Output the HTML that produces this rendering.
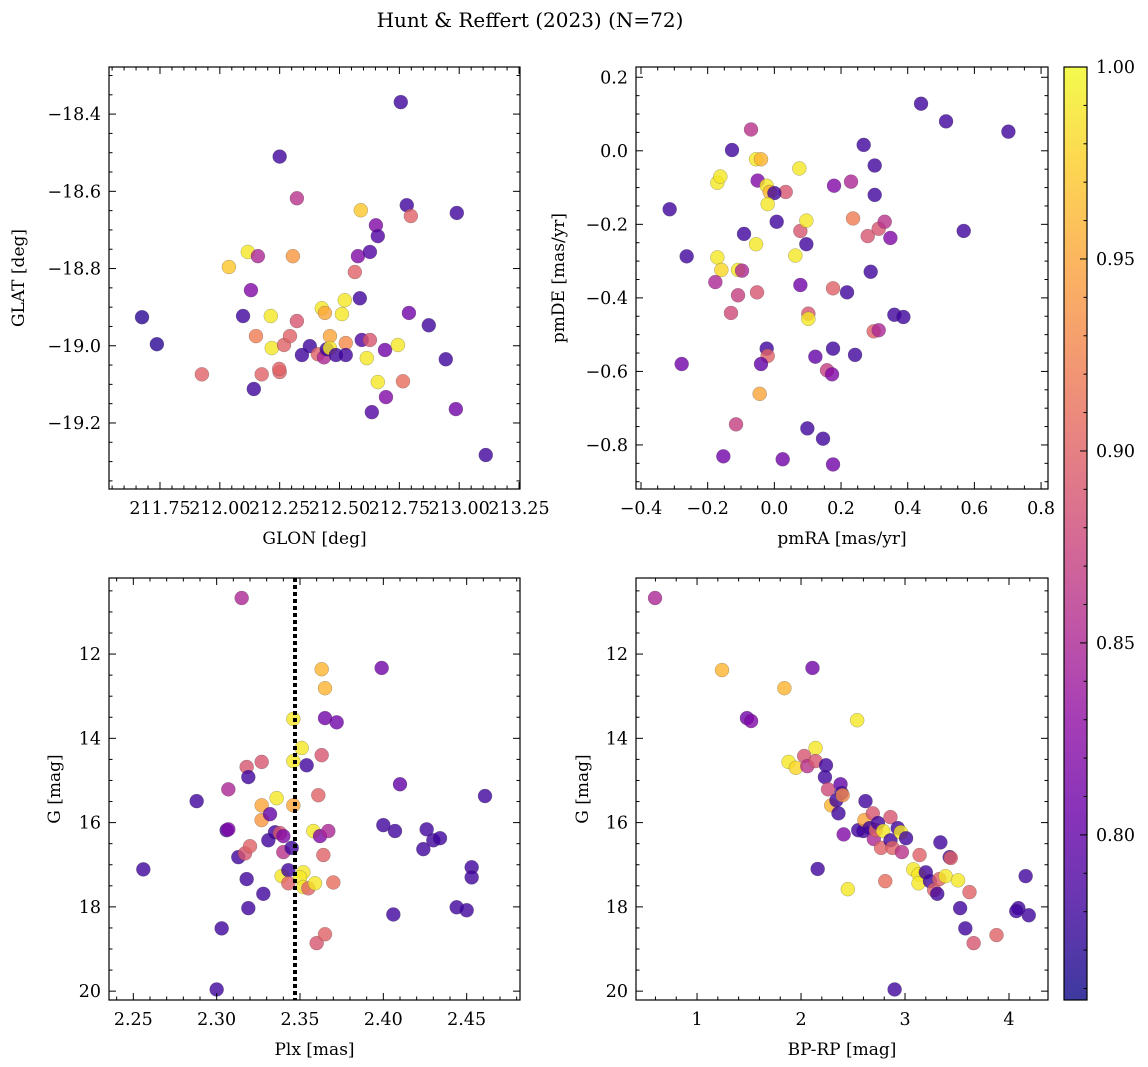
<!DOCTYPE html>
<html><head><meta charset="utf-8"><style>
body{margin:0;background:#fff}
svg{display:block;font-family:"DejaVu Serif","Liberation Serif",serif}
</style></head><body>
<svg id="c" width="1148" height="1067" viewBox="0 0 1148 1067" xmlns="http://www.w3.org/2000/svg">
<text x="530" y="27" font-size="20" text-anchor="middle">Hunt &amp; Reffert (2023) (N=72)</text>
</svg>
<script>
// Panel 1: GLON / GLAT
const glonA=[211.675,211.737,211.925,212.038,212.117,212.13,212.159,212.097,212.151,212.142,212.175,212.213,212.217,212.25,212.25,212.248,212.268,212.293,212.305,212.322,212.322,212.343,212.376,212.41,212.426,212.439,212.435,212.447,212.46,212.46,212.485,212.522,212.51,212.526,212.526,212.564,212.577,212.585,212.589,212.593,212.614,212.627,212.627,212.635,212.652,212.66,212.66,212.69,212.694,212.744,212.756,212.765,212.781,212.79,212.798,212.873,212.944,212.986,212.99,213.111];
const glatA=[-18.926,-18.996,-19.074,-18.796,-18.757,-18.856,-18.768,-18.923,-18.975,-19.112,-19.074,-18.923,-19.006,-18.51,-19.068,-19.06,-18.998,-18.975,-18.768,-18.618,-18.936,-19.024,-19.001,-19.022,-18.903,-18.915,-19.03,-19.009,-18.975,-19.006,-19.024,-18.882,-18.918,-18.993,-19.024,-18.809,-18.768,-18.877,-18.649,-18.985,-19.032,-18.985,-18.757,-19.172,-18.688,-18.716,-19.094,-19.011,-19.133,-18.998,-18.369,-19.092,-18.636,-18.915,-18.664,-18.947,-19.035,-19.164,-18.656,-19.283];
const prob1=[.77,.77,.90,.97,.99,.82,.85,.78,.92,.78,.90,.99,.99,.78,.90,.90,.90,.90,.94,.86,.89,.78,.78,.90,.99,.95,.85,.78,.95,.99,.78,.99,.99,.93,.78,.90,.82,.78,.97,.79,.99,.89,.79,.79,.82,.79,.99,.81,.82,.99,.78,.91,.78,.81,.90,.78,.78,.81,.78,.78];
// Panel 2: pmRA / pmDE
const pmraA=[-0.314,-0.263,-0.127,-0.07,-0.171,-0.162,-0.171,-0.159,-0.177,-0.109,-0.097,-0.109,-0.13,-0.115,-0.153,-0.278,-0.091,-0.055,-0.04,-0.05,-0.023,-0.014,0.034,0.0,-0.02,0.007,-0.055,-0.052,-0.023,-0.02,-0.04,-0.044,0.025,0.075,0.063,0.078,0.078,0.096,0.096,0.102,0.102,0.099,0.123,0.146,0.158,0.173,0.176,0.176,0.176,0.179,0.218,0.23,0.236,0.242,0.268,0.28,0.289,0.298,0.301,0.301,0.313,0.313,0.331,0.348,0.36,0.387,0.44,0.515,0.568,0.702];
const pmdeA=[-0.159,-0.287,0.002,0.058,-0.087,-0.07,-0.29,-0.324,-0.357,-0.324,-0.326,-0.393,-0.441,-0.744,-0.831,-0.58,-0.226,-0.023,-0.023,-0.081,-0.095,-0.112,-0.112,-0.115,-0.145,-0.193,-0.254,-0.385,-0.538,-0.558,-0.58,-0.661,-0.839,-0.048,-0.285,-0.218,-0.365,-0.19,-0.254,-0.443,-0.457,-0.755,-0.56,-0.783,-0.597,-0.608,-0.538,-0.374,-0.853,-0.095,-0.385,-0.084,-0.184,-0.555,0.016,-0.232,-0.329,-0.491,-0.04,-0.12,-0.212,-0.488,-0.193,-0.237,-0.446,-0.452,0.128,0.08,-0.218,0.052];
const prob2=[.78,.78,.78,.86,.99,.99,.99,.98,.85,.99,.85,.87,.88,.87,.81,.81,.78,.99,.96,.82,.99,.96,.89,.78,.99,.78,.99,.89,.78,.90,.80,.95,.81,.99,.99,.89,.81,.99,.78,.89,.99,.78,.80,.78,.87,.82,.78,.90,.81,.82,.78,.85,.92,.78,.78,.89,.78,.90,.78,.78,.89,.85,.86,.82,.78,.78,.78,.78,.78,.78];
// Panel 3: Plx / G
const plxA=[2.256,2.288,2.300,2.303,2.315,2.306,2.307,2.307,2.313,2.318,2.317,2.32,2.318,2.319,2.319,2.327,2.328,2.327,2.327,2.331,2.332,2.335,2.336,2.338,2.34,2.34,2.339,2.343,2.343,2.345,2.346,2.346,2.346,2.351,2.352,2.35,2.352,2.354,2.355,2.358,2.359,2.36,2.361,2.362,2.363,2.363,2.364,2.365,2.365,2.365,2.367,2.372,2.37,2.399,2.4,2.407,2.406,2.41,2.424,2.426,2.43,2.434,2.444,2.45,2.453,2.453,2.461];
const g3A=[17.11,15.49,19.96,18.51,10.67,16.18,16.16,15.21,16.82,17.34,16.73,16.56,14.68,14.92,18.03,14.56,17.69,15.59,15.94,16.42,15.8,16.23,15.42,16.25,16.7,16.32,17.27,17.13,17.44,16.6,15.59,14.54,13.54,14.23,17.18,17.3,17.53,14.64,17.56,16.2,17.44,18.86,15.35,16.32,14.4,12.36,16.77,12.81,18.65,13.52,16.2,13.62,17.42,12.33,16.06,16.2,18.18,15.09,16.63,16.16,16.42,16.37,18.01,18.08,17.06,17.3,15.37];
const prob3=[.78,.78,.78,.78,.85,.78,.82,.85,.78,.78,.89,.90,.89,.78,.78,.89,.78,.95,.94,.78,.80,.78,.99,.89,.86,.82,.99,.78,.90,.78,.95,.99,.99,.99,.99,.99,.99,.78,.90,.99,.99,.89,.90,.82,.89,.96,.90,.96,.90,.81,.85,.81,.91,.81,.78,.78,.78,.80,.78,.78,.78,.78,.78,.78,.78,.78,.78];
// Panel 4: BP-RP / G
const bprpA=[0.596,1.24,1.48,1.52,1.84,2.11,2.54,1.88,1.95,2.03,2.06,2.14,2.14,2.16,2.24,2.23,2.26,2.29,2.34,2.36,2.38,2.39,2.4,2.41,2.45,2.6,2.55,2.62,2.61,2.66,2.69,2.7,2.72,2.74,2.77,2.79,2.81,2.86,2.86,2.88,2.9,2.93,2.96,2.97,3.01,3.08,3.13,3.13,3.14,3.2,3.24,3.28,3.31,3.33,3.34,3.43,3.44,3.39,3.51,3.62,3.53,3.58,3.66,3.88,4.09,4.07,4.16,4.19];
const g4A=[10.67,12.38,13.52,13.59,12.81,12.33,13.57,14.56,14.7,14.42,14.66,14.23,14.54,17.1,14.64,14.92,15.21,15.59,15.47,15.78,15.09,15.3,15.35,16.28,17.58,16.2,16.18,15.49,15.94,16.13,15.78,16.39,16.18,16.01,16.6,16.2,17.39,15.87,16.42,16.6,19.96,16.13,16.23,16.7,16.37,17.11,17.23,17.44,16.77,17.18,17.39,17.6,17.69,17.34,16.47,16.82,16.84,17.27,17.37,17.65,18.03,18.51,18.86,18.67,18.03,18.1,17.27,18.2];
const prob4=[.85,.96,.81,.82,.96,.81,.99,.99,.98,.89,.86,.99,.89,.78,.78,.78,.88,.96,.78,.78,.80,.78,.93,.82,.99,.78,.78,.78,.95,.78,.89,.85,.90,.78,.90,.99,.91,.89,.78,.90,.78,.78,.99,.86,.78,.99,.99,.99,.90,.78,.78,.90,.78,.90,.78,.78,.90,.99,.99,.90,.78,.78,.89,.90,.78,.78,.78,.78];
const cbTicks=[0.80,0.85,0.90,0.95,1.00];
const VMIN=0.757,VMAX=1.0;

const NS="http://www.w3.org/2000/svg";
const svg=document.getElementById('c');
const stops=["#0d0887","#41049d","#6a00a8","#8f0da4","#b12a90","#cc4778","#e16462","#f2844b","#fca636","#fcce25","#f0f921"];
function hex(h){return[1,3,5].map(i=>parseInt(h.substr(i,2),16));}
function plasma(t){t=Math.max(0,Math.min(1,t));const f=t*10,i=Math.min(9,Math.floor(f)),r=f-i;const a=hex(stops[i]),b=hex(stops[i+1]);return 'rgb('+a.map((v,k)=>Math.round(v+(b[k]-v)*r)).join(',')+')';}
function cmap(p){return plasma((p-VMIN)/(VMAX-VMIN));}
function el(tag,attrs,parent){const e=document.createElementNS(NS,tag);for(const k in attrs)e.setAttribute(k,attrs[k]);(parent||svg).appendChild(e);return e;}
function fmt(v,d){const s=Math.abs(v).toFixed(d);return (v<-1e-9?'\u2212':'')+s;}
const TFS=17.5;

function panel(o){
  const g=el('g',{});
  
  
  const sx=v=>o.L+(v-o.x0)/(o.x1-o.x0)*(o.R-o.L);
  const sy=v=>o.T+(v-o.y0)/(o.y1-o.y0)*(o.B-o.T);
  const clip=el('clipPath',{id:'cl'+o.name},g);
  el('rect',{x:o.L,y:o.T,width:o.R-o.L,height:o.B-o.T},clip);
  const pts=el('g',{'clip-path':'url(#cl'+o.name+')'},g);
  for(let i=0;i<o.xs.length;i++){
    const c=el('circle',{cx:sx(o.xs[i]),cy:sy(o.ys[i]),r:7,fill:cmap(o.ps[i]),'fill-opacity':0.8,stroke:'#444','stroke-opacity':0.45,'stroke-width':0.5},pts);
    
    
  }
  if(o.vline!==undefined){
    const l=el('line',{x1:sx(o.vline),x2:sx(o.vline),y1:o.T,y2:o.B,stroke:'#000','stroke-width':4,'stroke-dasharray':'4,3'},g);
    
    
  }
  const tk=el('g',{stroke:'#000','stroke-width':1},g);
  const xlo=Math.min(o.x0,o.x1),xhi=Math.max(o.x0,o.x1),ylo=Math.min(o.y0,o.y1),yhi=Math.max(o.y0,o.y1);
  for(let k=Math.ceil(xlo/o.xmin-1e-6);k*o.xmin<=xhi+1e-9;k++){
    const v=k*o.xmin,x=sx(v);const maj=Math.abs(v/o.xmaj-Math.round(v/o.xmaj))<1e-6;const len=maj?7:3.5;
    el('line',{x1:x,x2:x,y1:o.B,y2:o.B-len},tk);el('line',{x1:x,x2:x,y1:o.T,y2:o.T+len},tk);
    if(maj){const t=el('text',{x:x,y:o.B+25,'font-size':TFS,'text-anchor':'middle'},g);t.textContent=fmt(v,o.xd);}
  }
  for(let k=Math.ceil(ylo/o.ymin-1e-6);k*o.ymin<=yhi+1e-9;k++){
    const v=k*o.ymin,y=sy(v);const maj=Math.abs(v/o.ymaj-Math.round(v/o.ymaj))<1e-6;const len=maj?7:3.5;
    el('line',{x1:o.L,x2:o.L+len,y1:y,y2:y},tk);el('line',{x1:o.R,x2:o.R-len,y1:y,y2:y},tk);
    if(maj){const t=el('text',{x:o.L-8,y:y+6,'font-size':TFS,'text-anchor':'end'},g);t.textContent=fmt(v,o.yd);}
  }
  el('rect',{x:o.L,y:o.T,width:o.R-o.L,height:o.B-o.T,fill:'none',stroke:'#000','stroke-width':1.2},g);
  const xl=el('text',{x:(o.L+o.R)/2,y:o.B+55,'font-size':17,'text-anchor':'middle'},g);xl.textContent=o.xlab;
  
  const yx=o.ylx,yc=(o.T+o.B)/2;
  const yl=el('text',{x:yx,y:yc,'font-size':17,'text-anchor':'middle',transform:'rotate(-90 '+yx+' '+yc+')'},g);yl.textContent=o.ylab;
  
}
panel({name:'glon-glat-panel',L:109,R:520,T:67,B:489,x0:211.537,x1:213.254,y0:-18.278,y1:-19.371,xmaj:0.25,xmin:0.05,ymaj:0.2,ymin:0.05,xd:2,yd:1,xs:glonA,ys:glatA,ps:prob1,xlab:'GLON [deg]',ylab:'GLAT [deg]',ylx:24});
panel({name:'proper-motion-panel',L:636,R:1048,T:67,B:489,x0:-0.415,x1:0.8208,y0:0.2279,y1:-0.9198,xmaj:0.2,xmin:0.05,ymaj:0.2,ymin:0.05,xd:1,yd:1,xs:pmraA,ys:pmdeA,ps:prob2,xlab:'pmRA [mas/yr]',ylab:'pmDE [mas/yr]',ylx:564});
panel({name:'parallax-magnitude-panel',L:109,R:520,T:578,B:1000,x0:2.2354,x1:2.482,y0:10.195,y1:20.21,xmaj:0.05,xmin:0.01,ymaj:2,ymin:0.5,xd:2,yd:0,xs:plxA,ys:g3A,ps:prob3,xlab:'Plx [mas]',ylab:'G [mag]',ylx:60,vline:2.347});
panel({name:'color-magnitude-panel',L:636,R:1048,T:578,B:1000,x0:0.413,x1:4.375,y0:10.195,y1:20.21,xmaj:1,xmin:0.2,ymaj:2,ymin:0.5,xd:0,yd:0,xs:bprpA,ys:g4A,ps:prob4,xlab:'BP-RP [mag]',ylab:'G [mag]',ylx:588});

const cb=el('g',{});


const CL=1064,CR=1087,CT=67,CB=1000;
const cby=v=>CB-(v-VMIN)/(VMAX-VMIN)*(CB-CT);
const defs=el('defs',{},cb);
const lg=el('linearGradient',{id:'cbg',x1:0,y1:1,x2:0,y2:0},defs);
for(let i=0;i<=20;i++)el('stop',{offset:i/20,'stop-color':plasma(i/20)},lg);
el('rect',{x:CL,y:CT,width:CR-CL,height:CB-CT,fill:'url(#cbg)','fill-opacity':0.8},cb);
el('rect',{x:CL,y:CT,width:CR-CL,height:CB-CT,fill:'none',stroke:'#000','stroke-width':1.2},cb);
for(let k=76;k<=100;k++){const v=k/100,y=cby(v);const maj=k%5===0;el('line',{x1:CR,x2:CR-(maj?7:3.5),y1:y,y2:y,stroke:'#000'},cb);}
cbTicks.forEach(v=>{const t=el('text',{x:CR+9,y:cby(v)+6,'font-size':TFS},cb);t.textContent=v.toFixed(2);});
</script>
</body></html>
